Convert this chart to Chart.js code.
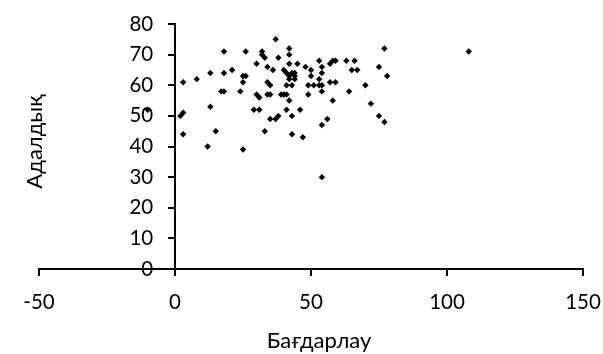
<!DOCTYPE html>
<html lang="kk">
<head>
<meta charset="UTF-8">
<title>Бағдарлау мен адалдық</title>
<script src="https://cdn.jsdelivr.net/npm/chart.js"></script>
<style>
  html, body { margin: 0; padding: 0; background: #fff; }
  .chart-box { width: 603px; height: 354px; }
</style>
</head>
<body>
<div class="chart-box"><canvas id="scatterChart" width="603" height="354"></canvas></div>
<script>
// respondents: orientation score (x) and honesty score (y)
const bagdarlau = [
  -10, 3, 3, 2, 3, 8, 13, 13, 12, 15,
  18, 18, 17, 18, 21, 24, 25, 25, 26, 26,
  25, 30, 29, 31, 30, 31, 32, 32, 33, 34,
  36, 34, 35, 34, 35, 33, 35, 37, 38, 37,
  38, 39, 40, 41, 40, 41, 41, 42, 42, 42,
  45, 43, 44, 42, 44, 42, 44, 41, 43, 42,
  43, 43, 46, 47, 48, 50, 50, 49, 51, 49,
  53, 54, 54, 53, 53, 54, 54, 54, 54, 56,
  57, 59, 58, 59, 57, 58, 63, 66, 65, 67,
  64, 70, 72, 75, 77, 78, 75, 77, 108
];
const adaldyk = [
  52, 61, 51, 50, 44, 62, 64, 53, 40, 45,
  71, 64, 58, 58, 65, 58, 61, 63, 63, 71,
  39, 67, 52, 52, 57, 56, 71, 70, 69, 66,
  65, 61, 60, 57, 57, 45, 49, 49, 50, 75,
  69, 57, 57, 57, 65, 64, 52, 72, 70, 67,
  67, 64, 64, 63, 63, 62, 62, 60, 60, 55,
  50, 44, 52, 43, 66, 65, 63, 60, 60, 57,
  68, 66, 64, 62, 60, 60, 58, 47, 30, 49,
  61, 61, 68, 68, 67, 55, 68, 68, 65, 65,
  58, 60, 54, 66, 72, 63, 50, 48, 71
];

const xTicks = [-50, 0, 50, 100, 150];
const yTicks = [0, 10, 20, 30, 40, 50, 60, 70, 80];
const xTitle = 'Бағдарлау';
const yTitle = 'Адалдық';

const points = bagdarlau.map((x, i) => ({ x: x, y: adaldyk[i] }));

const fontFamily = 'Lato, "Open Sans", sans-serif';
const fontSize = 20.5;

// axis titles are drawn by hand, the axes sit at x = 0 and y = 0
const axisTitles = {
  id: 'axisTitles',
  afterDraw(chart) {
    const { ctx, chartArea } = chart;
    ctx.save();
    ctx.fillStyle = '#000';
    ctx.font = '22px ' + fontFamily;
    ctx.textAlign = 'center';
    ctx.textBaseline = 'middle';
    ctx.fillText(xTitle, (chartArea.left + chartArea.right) / 2 + 8, chartArea.bottom + 72);
    ctx.translate(35, (chartArea.top + chartArea.bottom) / 2 - 5);
    ctx.rotate(-Math.PI / 2);
    ctx.fillText(yTitle, 0, 0);
    ctx.restore();
  }
};

const tickFont = { family: fontFamily, size: fontSize };

new Chart(document.getElementById('scatterChart'), {
  type: 'scatter',
  data: {
    datasets: [{
      data: points,
      pointStyle: 'rectRot',
      pointRadius: 3.2,
      pointHoverRadius: 3.2,
      backgroundColor: '#000',
      borderColor: '#000',
      borderWidth: 0
    }]
  },
  options: {
    responsive: false,
    animation: false,
    layout: { padding: { left: 39, right: 20, top: 24, bottom: 85 } },
    plugins: { legend: { display: false }, tooltip: { enabled: false } },
    scales: {
      x: {
        type: 'linear',
        position: { y: 0 },
        min: xTicks[0],
        max: xTicks[xTicks.length - 1],
        ticks: { stepSize: xTicks[1] - xTicks[0], color: '#000', font: tickFont, padding: 15 },
        grid: { drawOnChartArea: false, drawTicks: true, tickLength: 6, color: '#000', lineWidth: 2 },
        border: { color: '#000', width: 2 },
        // edge labels fit inside the fixed layout padding
        afterFit: (scale) => { scale.paddingLeft = 0; scale.paddingRight = 0; }
      },
      y: {
        type: 'linear',
        position: { x: 0 },
        min: yTicks[0],
        max: yTicks[yTicks.length - 1],
        ticks: { stepSize: yTicks[1] - yTicks[0], display: false },
        grid: { drawOnChartArea: false, drawTicks: true, tickLength: 6, color: '#000', lineWidth: 2 },
        border: { color: '#000', width: 2 }
      },
      // label-only copy of the value axis, set a little left of the axis line
      yLabels: {
        type: 'linear',
        axis: 'y',
        display: true,
        position: { x: -8 },
        min: yTicks[0],
        max: yTicks[yTicks.length - 1],
        ticks: { stepSize: yTicks[1] - yTicks[0], color: '#000', font: tickFont },
        grid: { display: false },
        border: { display: false }
      }
    }
  },
  plugins: [axisTitles]
});
</script>
</body>
</html>
